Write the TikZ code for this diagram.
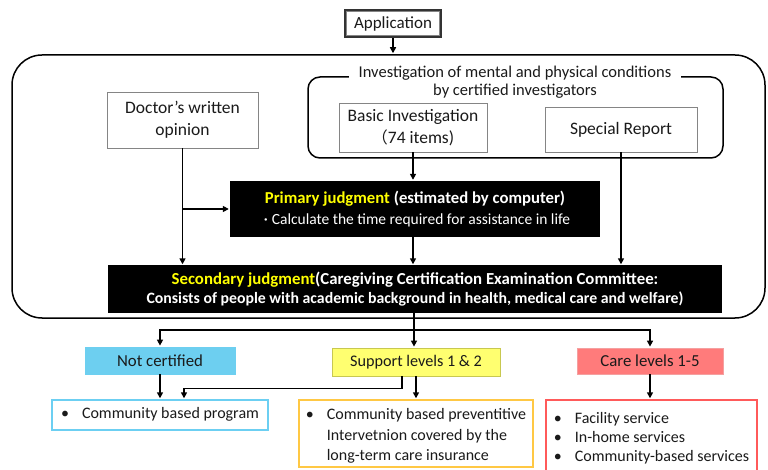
\documentclass[tikz,border=0pt]{standalone}
\usepackage{fontspec}
\setmainfont{Carlito}
\newfontfamily\cjk{Noto Sans CJK JP}
\usetikzlibrary{arrows.meta}

\definecolor{txt}{HTML}{1A1A1A}
\definecolor{boxgray}{HTML}{858585}
\definecolor{hiyellow}{HTML}{FFFF00}
\definecolor{ncfill}{HTML}{6DCFF0}
\definecolor{supfill}{HTML}{FFFF70}
\definecolor{supline}{HTML}{C8C850}
\definecolor{carefill}{HTML}{FF7B7B}
\definecolor{careline}{HTML}{F4A0A0}
\definecolor{commline}{HTML}{6CCFF2}
\definecolor{prevline}{HTML}{FFC844}
\definecolor{facline}{HTML}{FF5A5A}

\tikzset{
  base/.style={font=\fontsize{16}{22}\selectfont, text=txt, align=center, inner sep=0pt},
  whitebox/.style={base, draw=boxgray, line width=0.9pt, fill=white, font=\fontsize{17.5}{22}\selectfont},
  blackbox/.style={base, fill=black, text=white},
  levelbox/.style={base, line width=0.8pt, font=\fontsize{16.8}{20}\selectfont},
  listbox/.style={base, fill=white, line width=1.4pt},
  listtext/.style={base, align=left},
  conn/.style={line width=1.6pt},
  arr/.style={conn, -{Triangle[length=6pt,width=6pt]}, shorten >=1pt},
  frame/.style={line width=1.5pt, draw=black}
}

\begin{document}
\begin{tikzpicture}[x=1pt,y=-1pt]
\useasboundingbox (0,0) rectangle (768,470);

% outer frame of the assessment stage
\node[frame, rounded corners=30pt, minimum width=753, minimum height=263] (stage) at (388.5,186.5) {};

% application
\node[base, draw=black!80, line width=1.8pt, fill=white, minimum width=96, minimum height=27,
      font=\fontsize{17}{20}\selectfont] (app) at (393,23.5) {Application};
\draw[boxgray, line width=0.6pt] ([xshift=2.6pt,yshift=-2.6pt]app.north west) rectangle ([xshift=-2.6pt,yshift=2.6pt]app.south east);
\draw[arr] (app.south) -- (app.south |- stage.north);

% investigation group
\node[frame, rounded corners=12pt, minimum width=415, minimum height=81] (inv) at (515.5,117.5) {};
\node[base, fill=white, inner xsep=10pt, inner ysep=1pt, font=\fontsize{16.5}{18}\selectfont] (invtitle) at (515,82.5)
  {Investigation of mental and physical conditions\\by certified investigators};

\node[whitebox, minimum width=151, minimum height=56] (doc) at (182.5,120) {Doctor’s written\\opinion};
\node[whitebox, minimum width=148, minimum height=49] (basic) at (413,127.5) {Basic Investigation\\{\cjk\fontsize{16}{22}\selectfont （}74 items)};
\node[whitebox, minimum width=152, minimum height=45] (spec) at (621,129.5) {Special Report};

% judgments
\node[blackbox, minimum width=370, minimum height=56, font=\fontsize{15.5}{21}\selectfont] (prim) at (415,209)
  {{\fontsize{16.7}{21}\selectfont\bfseries\textcolor{hiyellow}{Primary judgment} (estimated by computer)}\\{\cjk\fontsize{12}{21}\selectfont ・}Calculate the time required for assistance in life};
\node[blackbox, minimum width=614, minimum height=47, font=\bfseries\fontsize{15.8}{19}\selectfont] (sec) at (415,289)
  {{\fontsize{16.8}{19}\selectfont\textcolor{hiyellow}{Secondary judgment}(Caregiving Certification Examination Committee:}\\Consists of people with academic background in health, medical care and welfare)};

\coordinate (docjoin) at (doc.south |- prim.west);
\draw[arr] (doc.south) -- (doc.south |- sec.north);
\draw[arr] (docjoin) -- (prim.west);
\draw[arr] (basic.south) -- (basic.south |- prim.north);
\draw[arr] (prim.south -| basic.south) -- (basic.south |- sec.north);
\draw[arr] (spec.south) -- (spec.south |- sec.north);

% levels
\node[levelbox, fill=ncfill, draw=ncfill, minimum width=150, minimum height=27] (notc) at (160,360.5) {Not certified};
\node[levelbox, fill=supfill, draw=supline, minimum width=168, minimum height=28, font=\fontsize{16.2}{20}\selectfont] (sup) at (416,362) {Support levels 1 \& 2};
\node[levelbox, fill=carefill, draw=careline, minimum width=146, minimum height=26] (care) at (650,361) {Care levels 1-5};

\coordinate (split) at (414,330);
\draw[conn] (sec.south -| split) -- (split);
\draw[arr] (split) -| (notc.north);
\draw[arr] (split) -| (care.north);
\draw[arr] (split) -- (split |- sup.north);

% services
\node[listbox, draw=commline, minimum width=216, minimum height=30] (comm) at (160,415) {};
\node[listtext] (commlist) at (160,414.5)
  {\begin{tabular}{@{}l@{\hspace{13pt}}l@{}}•&Community based program\end{tabular}};
\node[listbox, draw=prevline, minimum width=234, minimum height=67] (prev) at (416,433.5) {};
\node[listtext] (prevlist) at (416,436)
  {\renewcommand{\arraystretch}{0.94}\begin{tabular}{@{}l@{\hspace{13pt}}l@{}}•&Community based preventitive\\&Intervetnion covered by the\\&long-term care insurance\end{tabular}};
\node[listbox, draw=facline, minimum width=211, minimum height=74] (fac) at (651.5,437) {};
\node[listtext] (faclist) at (651.5,438.5)
  {\renewcommand{\arraystretch}{0.86}\begin{tabular}{@{}l@{\hspace{13pt}}l@{}}•&Facility service\\•&In-home services\\•&Community-based services\end{tabular}};

\draw[arr] (notc.south) -- (notc.south |- comm.north);
\draw[arr] ([xshift=-14pt]sup.south) -- ++(0,12) -| ([xshift=24pt]comm.north);
\draw[arr] (sup.south) -- (sup.south |- prev.north);
\draw[arr] (care.south) -- (care.south |- fac.north);

\end{tikzpicture}
\end{document}
